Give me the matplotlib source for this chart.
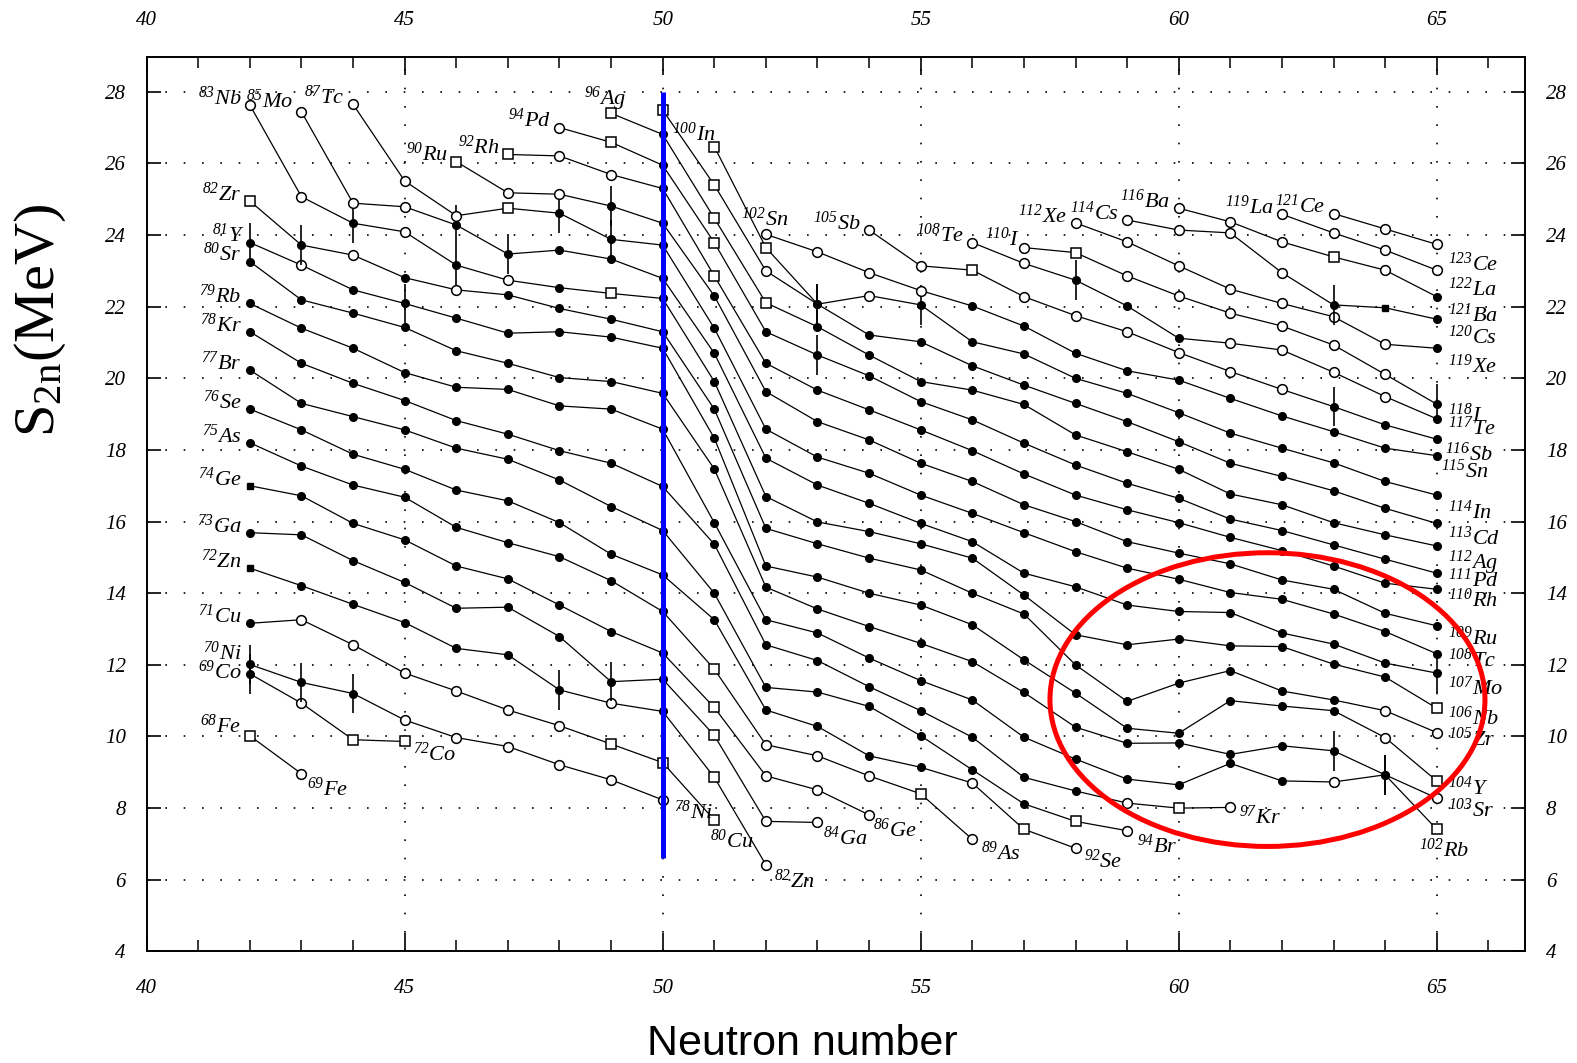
import matplotlib.pyplot as plt
from matplotlib.patches import Ellipse

plt.rcParams['font.family'] = 'Liberation Serif'
plt.rcParams['mathtext.fontset'] = 'custom'
plt.rcParams['mathtext.rm'] = 'Liberation Serif'
plt.rcParams['mathtext.it'] = 'Liberation Serif:italic'

# two-neutron separation energies (MeV) along each isotopic chain,
# one value per neutron number starting at the first N of the chain
s2n_fe = [10.02, 8.96]
s2n_co = [11.75, 10.93, 9.91, 9.86]
s2n_ni = [12.01, 11.51, 11.20, 10.46, 9.97, 9.72, 9.21, 8.79, 8.23]
s2n_cu = [13.16, 13.26, 12.56, 11.77, 11.27, 10.74, 10.30, 9.79, 9.27, 7.67]
s2n_zn = [14.70, 14.21, 13.69, 13.18, 12.46, 12.28, 11.30, 10.93, 10.70, 8.86, 6.42]
s2n_ga = [15.69, 15.63, 14.91, 14.30, 13.58, 13.61, 12.79, 11.53, 11.60, 10.03, 7.63, 7.60]
s2n_ge = [17.00, 16.72, 15.95, 15.49, 14.76, 14.40, 13.67, 12.93, 12.33, 10.81, 8.90, 8.51, 7.81]
s2n_as = [18.20, 17.55, 17.02, 16.68, 15.84, 15.41, 15.02, 14.35, 13.49, 11.88, 9.77, 9.46,
          8.90, 8.40, 7.13]
s2n_se = [19.14, 18.56, 17.88, 17.46, 16.88, 16.58, 15.97, 15.09, 14.51, 13.26, 10.74, 10.28,
          9.46, 9.14, 8.70, 7.41, 6.88]
s2n_br = [20.23, 19.30, 18.93, 18.56, 18.05, 17.74, 17.16, 16.42, 15.75, 14.00, 11.37, 11.24,
          10.84, 10.02, 9.07, 8.12, 7.63, 7.37]
s2n_kr = [21.30, 20.42, 19.86, 19.38, 18.82, 18.44, 17.98, 17.63, 16.98, 15.37, 12.56, 12.12,
          11.39, 10.72, 9.98, 8.86, 8.48, 8.14, 8.00, 8.02]
s2n_rb = [22.09, 21.40, 20.84, 20.16, 19.75, 19.69, 19.23, 19.14, 18.58, 15.97, 13.26, 12.89,
          12.19, 11.56, 11.02, 9.98, 9.37, 8.81, 8.65, 9.25, 8.76, 8.73, 8.93, 7.41]
s2n_sr = [23.26, 22.19, 21.82, 21.42, 20.77, 20.42, 20.02, 19.91, 19.58, 17.47, 14.17, 13.56,
          13.07, 12.60, 12.09, 11.23, 10.26, 9.81, 9.82, 9.50, 9.74, 9.60, 8.93, 8.28]
s2n_y = [23.79, 23.16, 22.47, 22.09, 21.68, 21.26, 21.30, 21.15, 20.84, 18.33, 14.76, 14.45,
         14.00, 13.67, 13.12, 12.14, 11.21, 10.23, 10.09, 11.00, 10.85, 10.72, 9.97, 8.76]
s2n_zr = [24.95, 23.72, 23.44, 22.81, 22.47, 22.33, 21.95, 21.65, 21.30, 19.14, 15.81, 15.38,
          14.98, 14.65, 14.00, 13.42, 12.00, 10.98, 11.49, 11.84, 11.27, 11.02, 10.72, 10.11]
s2n_nb = [27.63, 25.07, 24.33, 24.09, 23.16, 22.74, 22.53, 22.37, 22.23, 19.91, 16.70, 15.99,
          15.72, 15.38, 14.98, 13.95, 12.84, 12.56, 12.72, 12.53, 12.51, 12.02, 11.66, 10.79]
s2n_mo = [27.44, 24.89, 24.79, 24.28, 23.47, 23.58, 23.33, 22.79, 20.70, 17.77, 17.02, 16.51,
          15.95, 15.44, 14.56, 14.18, 13.67, 13.49, 13.46, 12.89, 12.58, 12.05, 11.77]
s2n_tc = [27.65, 25.51, 24.54, 24.75, 24.61, 23.88, 23.72, 21.40, 18.58, 17.80, 17.35, 16.74,
          16.23, 15.69, 15.16, 14.70, 14.39, 14.02, 13.83, 13.42, 12.93, 12.31]
s2n_ru = [26.05, 25.18, 25.14, 24.81, 24.33, 22.30, 19.63, 18.79, 18.28, 17.63, 17.12, 16.47,
          16.00, 15.44, 15.12, 14.82, 14.37, 14.11, 13.44, 13.09]
s2n_rh = [26.25, 26.21, 25.69, 25.30, 22.86, 20.42, 19.67, 19.12, 18.56, 17.98, 17.33, 16.74,
          16.33, 15.97, 15.56, 15.19, 14.76, 14.28, 14.11]
s2n_pd = [27.00, 26.59, 25.95, 23.79, 21.30, 20.65, 20.07, 19.35, 18.84, 18.19, 17.58, 17.07,
          16.65, 16.07, 15.75, 15.35, 14.95, 14.56]
s2n_ag = [27.40, 26.81, 24.47, 22.11, 21.44, 20.65, 19.91, 19.67, 19.27, 18.42, 17.95, 17.46,
          16.77, 16.47, 15.97, 15.63, 15.32]
s2n_cd = [27.49, 25.40, 23.00, 22.07, 21.21, 21.02, 20.35, 19.81, 19.30, 18.79, 18.23, 17.63,
          17.26, 16.86, 16.37, 15.95]
s2n_in = [26.47, 23.65, 22.07, 22.31, 22.05, 21.02, 20.68, 20.00, 19.58, 19.04, 18.47, 18.05,
          17.64, 17.12, 16.74]
s2n_sn = [24.02, 23.53, 22.95, 22.45, 22.02, 21.46, 20.70, 20.21, 19.95, 19.44, 18.95, 18.51,
          18.05, 17.84]
s2n_sb = [24.14, 23.14, 23.02, 22.28, 21.75, 21.30, 20.72, 20.19, 19.69, 19.21, 18.70, 18.30]
s2n_te = [23.79, 23.21, 22.74, 22.02, 21.12, 20.98, 20.79, 20.17, 19.49, 18.87]
s2n_i = [23.65, 23.51, 22.86, 22.30, 21.82, 21.46, 20.93, 20.11, 19.28]
s2n_xe = [24.34, 23.81, 23.14, 22.49, 22.09, 21.72, 20.95, 20.84]
s2n_cs = [24.42, 24.14, 24.06, 22.95, 22.05, 21.97, 21.65]
s2n_ba = [24.75, 24.37, 23.81, 23.39, 23.02, 22.28]
s2n_la = [24.58, 24.06, 23.58, 23.02]
s2n_ce = [24.60, 24.17, 23.74]

# element, Z, first neutron number, S2n values
chains = [
    ("Fe", 26, 42, s2n_fe), ("Co", 27, 42, s2n_co), ("Ni", 28, 42, s2n_ni),
    ("Cu", 29, 42, s2n_cu), ("Zn", 30, 42, s2n_zn), ("Ga", 31, 42, s2n_ga),
    ("Ge", 32, 42, s2n_ge), ("As", 33, 42, s2n_as), ("Se", 34, 42, s2n_se),
    ("Br", 35, 42, s2n_br), ("Kr", 36, 42, s2n_kr), ("Rb", 37, 42, s2n_rb),
    ("Sr", 38, 42, s2n_sr), ("Y", 39, 42, s2n_y), ("Zr", 40, 42, s2n_zr),
    ("Nb", 41, 42, s2n_nb), ("Mo", 42, 43, s2n_mo), ("Tc", 43, 44, s2n_tc),
    ("Ru", 44, 46, s2n_ru), ("Rh", 45, 47, s2n_rh), ("Pd", 46, 48, s2n_pd),
    ("Ag", 47, 49, s2n_ag), ("Cd", 48, 50, s2n_cd), ("In", 49, 51, s2n_in),
    ("Sn", 50, 52, s2n_sn), ("Sb", 51, 54, s2n_sb), ("Te", 52, 56, s2n_te),
    ("I", 53, 57, s2n_i), ("Xe", 54, 58, s2n_xe), ("Cs", 55, 59, s2n_cs),
    ("Ba", 56, 60, s2n_ba), ("La", 57, 62, s2n_la), ("Ce", 58, 63, s2n_ce),
]

# point symbols: o open circle, s open square, f filled dot,
# S filled square, e filled dot with error bar
marks = {
    "Fe": "so", "Co": "eoss", "Ni": "eeeoooooo", "Cu": "foooooosss",
    "Zn": "Sfffffeofso", "Ga": "fffffffefsoo", "Ge": "Sffffffffsooo",
    "As": "fffffffffsoooso", "Se": "f" * 14 + "oso", "Br": "f" * 16 + "so",
    "Kr": "f" * 17 + "oso", "Rb": "f" * 21 + "oes", "Sr": "f" * 21 + "eeo",
    "Y": "eofe" + "f" * 18 + "os", "Zr": "seofo" + "f" * 17 + "oo",
    "Nb": "ooeoeofs" + "f" * 15 + "s", "Mo": "oooeeff" + "f" * 15 + "e",
    "Tc": "oooseef" + "f" * 15, "Ru": "sooe" + "f" * 16, "Rh": "soofs" + "f" * 14,
    "Pd": "osfsfe" + "f" * 12, "Ag": "sfss" + "f" * 13, "Cd": "ssoe" + "f" * 12,
    "In": "sseoe" + "f" * 10, "Sn": "oooo" + "f" * 10, "Sb": "oosoooooo" + "eff",
    "Te": "ooeffoooof", "I": "osoooooo" + "e", "Xe": "ooooooof", "Cs": "ooooeSf",
    "Ba": "ooosof", "La": "oooo", "Ce": "ooo",
}

# label offsets in points (start label left of first point, end label right of last)
start_off = {
    "Fe": (-6, 7), "Co": (-6, 1), "Ni": (-6, 8), "Mo": (-6, 8), "Tc": (-6, 5),
    "Ag": (11, 10), "In": (1, 9), "Sn": (16, 11), "Y": (-4, 5), "I": (-3, 6),
}
end_off = {
    "Fe": (4, -11), "Co": (6, -9), "Ni": (8, -9), "Cu": (-3, -15), "Zn": (6, -12),
    "Ga": (4, -11), "Ge": (3, -11), "As": (6, -10), "Se": (6, -9), "Br": (7, -11),
    "Kr": (6, -7), "Rb": (-13, -15), "Sr": (8, -9), "Y": (8, -5), "Zr": (8, -5),
    "Nb": (8, -7), "Mo": (8, -11), "Tc": (8, -5), "Ru": (8, -9), "Rh": (8, -8),
    "Pd": (8, -5), "Ag": (8, -12), "Cd": (8, -11), "In": (8, -12), "Sn": (3, -11),
    "Sb": (6, -11), "Te": (8, -7), "I": (8, -8), "Xe": (8, -13), "Cs": (8, -13),
    "Ba": (8, -13), "La": (8, -14), "Ce": (8, -14),
}

fig = plt.figure(figsize=(15.77, 10.63), dpi=100)
fig.patch.set_facecolor('white')
ax = fig.add_axes([0.093, 0.105, 0.874, 0.841])
ax.set_xlim(40, 66.71)
ax.set_ylim(4, 28.96)

# dotted grid
for y in range(6, 29, 2):
    ax.axhline(y, color='black', lw=1.2, ls=(0, (1, 10)), zorder=0)
for x in range(45, 66, 5):
    ax.axvline(x, color='black', lw=1.2, ls=(0, (1, 10)), zorder=0)


def iso_label(n, s, a, el, off, ha):
    ax.annotate(r'$^{\mathdefault{%d}}$%s' % (a, el), (n, s), xytext=off,
                textcoords='offset points', ha=ha, va='center',
                fontsize=16, style='italic', zorder=4)


for el, z, n0, vals in chains:
    ns = list(range(n0, n0 + len(vals)))
    ax.plot(ns, vals, color='black', lw=0.9, zorder=2)
    codes = marks[el].ljust(len(vals), 'f')
    for n, s, m in zip(ns, vals, codes):
        if m == 'o':
            ax.plot(n, s, 'o', ms=7, mfc='white', mec='black', mew=1.1, zorder=3)
        elif m == 's':
            ax.plot(n, s, 's', ms=6.5, mfc='white', mec='black', mew=1.1, zorder=3)
        elif m == 'S':
            ax.plot(n, s, 's', ms=5, color='black', zorder=3)
        else:
            ax.plot(n, s, 'o', ms=5.5, color='black', zorder=3)
            if m == 'e':
                ax.vlines(n, s - 0.55, s + 0.55, color='black', lw=1.2, zorder=3)
    if el != "Cd":
        iso_label(ns[0], vals[0], z + ns[0], el, start_off.get(el, (-6, 5)), 'right')
    iso_label(ns[-1], vals[-1], z + ns[-1], el, end_off.get(el, (8, -10)), 'left')

# N = 50 shell closure and the highlighted region
ax.plot([50, 50], [6.62, 28.0], color='#0000ff', lw=3.6, zorder=5, solid_capstyle='butt')
ax.add_patch(Ellipse((61.72, 11.03), 8.43, 8.2, fill=False, edgecolor='#ff0000',
                     lw=3.6, zorder=6))

ax.set_xticks(range(40, 66, 5))
ax.set_xticks(range(40, 67), minor=True)
ax.set_yticks(range(4, 29, 2))
ax.tick_params(which='both', direction='in', top=True, right=True,
               labeltop=True, labelright=True, labelsize=15, colors='black')
ax.tick_params(axis='x', which='major', length=13, width=1.2, pad=20)
ax.tick_params(axis='x', which='minor', length=8, width=1.1)
ax.tick_params(axis='y', which='major', length=10, width=1.2, pad=15)
for t in ax.xaxis.get_major_ticks() + ax.yaxis.get_major_ticks():
    t.label1.set_fontstyle('italic')
    t.label2.set_fontstyle('italic')
for sp in ax.spines.values():
    sp.set_linewidth(1.4)

fig.text(0.5086, 0.018, 'Neutron number', ha='center', va='center',
         fontsize=31, family='Liberation Sans')
fig.text(0.0255, 0.699, r'S$_{\mathrm{2n}}$(MeV)', ha='center', va='center',
         rotation=90, fontsize=42)

fig.savefig('out.png', dpi=100)
